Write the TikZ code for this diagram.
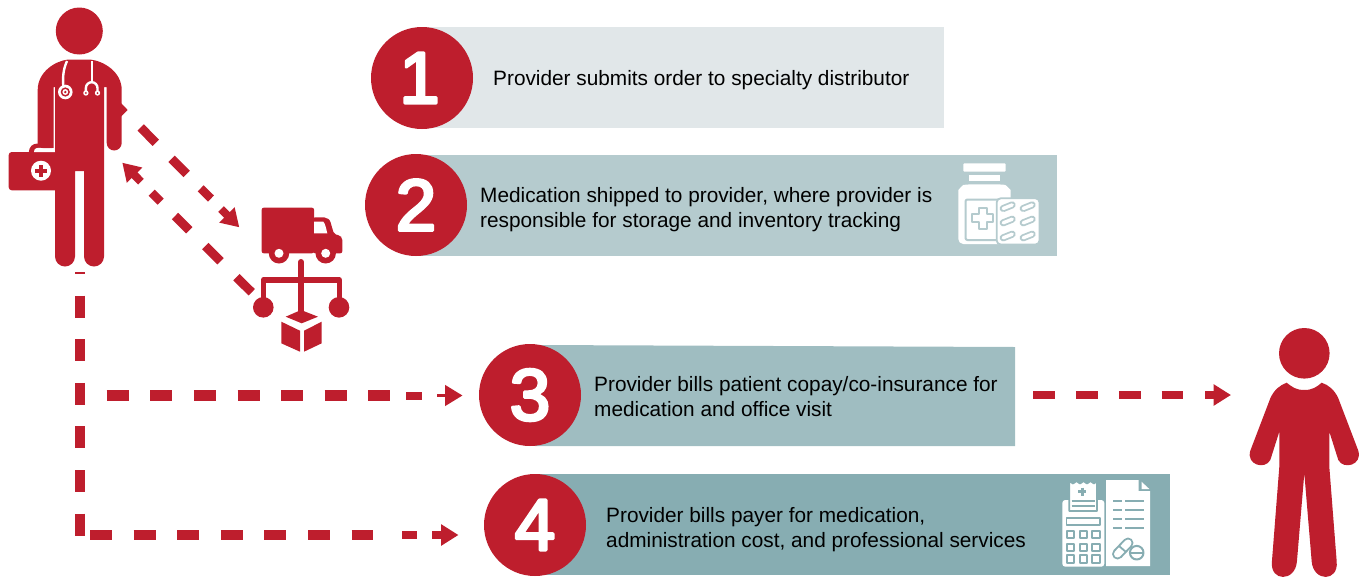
\documentclass[tikz,border=0pt]{standalone}
\usepackage{fontspec}
\setmainfont{Liberation Sans}
\newfontfamily\digitface[FakeBold=4]{Liberation Sans}
\usetikzlibrary{arrows.meta}
\definecolor{brick}{HTML}{BE1E2D}
\definecolor{barA}{HTML}{E1E7E9}
\definecolor{barB}{HTML}{B5CBCE}
\definecolor{barC}{HTML}{9FBDC1}
\definecolor{barD}{HTML}{87ADB2}
\tikzset{
  numdisc/.style={circle,fill=brick,text=white,minimum size=102pt,inner sep=0pt,line join=round,font=\fontsize{73}{73}\selectfont\digitface},
  barbox/.style={rectangle,inner sep=0pt,minimum height=101pt},
  caption/.style={anchor=west,align=left,inner sep=0pt,text=black,font=\fontsize{20.8}{25}\selectfont},
  dashrun/.style={draw=brick,line width=10.5pt,dash pattern=on 22pt off 21.6pt},
  diagrun/.style={draw=brick,line width=9pt,dash pattern=on 21.5pt off 22.5pt},
  endbit/.style={draw=brick,line width=8pt},
  tipline/.style={draw=brick,-{Triangle[length=17.5pt,width=20.5pt]},fill=brick},
  brickfill/.style={fill=brick},
}
\begin{document}
\begin{tikzpicture}[x=1pt,y=-1pt,line join=round]
\useasboundingbox (0,0) rectangle (1362,576);

% bars
\node[barbox,fill=barA,minimum width=524pt] (bar1) at (682,77.5) {};
\node[barbox,fill=barB,minimum width=637pt] (bar2) at (738.5,205.5) {};
\fill[barC] (535,345) -- (1015,347) -- (1015,446) -- (535,446) -- cycle;
\node[barbox,fill=barD,minimum width=635pt] (bar4) at (852.5,524.5) {};

% discs
\node[numdisc] (n1) at (422,78) {\hspace*{-5pt}\raisebox{-2pt}{1}};
\node[numdisc] (n2) at (416,205) {\raisebox{-2pt}{2}};
\node[numdisc] (n3) at (530,395) {\raisebox{-2pt}{3}};
\node[numdisc] (n4) at (535,525) {\raisebox{-2pt}{4}};

% captions
\node[caption] (t1) at (493,80) {Provider submits order to specialty distributor};
\node[caption] (t2) at (480,210) {Medication shipped to provider, where provider is\\responsible for storage and inventory tracking};
\node[caption] (t3) at (594,397) {Provider bills patient copay/co-insurance for\\medication and office visit};
\node[caption] (t4) at (606,529.5) {Provider bills payer for medication,\\administration cost, and professional services};

% ---------- doctor
\fill[brickfill] (79.3,31) circle (23.5);
\fill[brickfill] (37.7,148) -- (37.7,90) .. controls (37.7,72) and (55,61) .. (68,59.5) -- (90,59.5)
  .. controls (104,61) and (121.7,72) .. (121.7,90) -- (121.7,143) arc (0:180:7.5) -- (106.7,87) -- (104,87)
  -- (104,256.5) arc (0:180:10) -- (84,171) -- (75,171) -- (75,256.5) arc (0:180:10) -- (55,190) -- (55,87) -- (53.5,87) -- (53.5,148) -- cycle;
\fill[brickfill,rounded corners=3pt] (8.7,152) rectangle (60,190.3);
\fill[brickfill] (28.7,153) .. controls (29,147) and (32,143.5) .. (38,143.5) -- (38,153) -- cycle;
\fill[white] (34,152) .. controls (34,148) and (37,147.5) .. (41,148) .. controls (45,149.5) and (48,149) .. (52,148.5) -- (53.5,148) -- (55,152) -- cycle;
\fill[white] (41,170.7) circle (10);
\fill[brickfill] (38.8,164.7) rectangle (43.2,176.7);
\fill[brickfill] (35,168.5) rectangle (47,172.9);
\draw[white,line width=2.4pt] (67,61) .. controls (63,70) and (62.5,78) .. (63.5,88);
\fill[white] (65.3,92) circle (7.3);
\fill[brickfill] (65.3,92) circle (4.6);
\fill[white] (65.3,92) circle (2.9);
\fill[brickfill] (65.3,92) circle (1.3);
\draw[white,line width=2.4pt] (91.7,61) -- (91.7,82);
\draw[white,line width=2.4pt] (85.9,92) -- (85.9,88) arc (180:360:5.8) -- (97.5,92);
\fill[white] (85.9,93) circle (2.7) (97.5,93) circle (2.7);
\fill[brickfill] (85.9,93) circle (1) (97.5,93) circle (1);
\fill[brickfill] (121,103) -- (127.7,110) -- (121,116.7) -- cycle;

% ---------- truck
\fill[brickfill,rounded corners=2pt] (261.7,207.7) rectangle (314,253.3);
\fill[brickfill,rounded corners=2pt] (313,217.3) -- (322,217.3) .. controls (327,217.3) and (330,220) .. (331,224) -- (334,234) -- (340,235.5) -- (342.3,238) -- (342.3,253.3) -- (313,253.3) -- cycle;
\fill[white] (314,221.7) -- (323.3,221.7) .. controls (325,223) and (326,228) .. (327.3,233.3) -- (314,233.3) -- cycle;
\node[circle,fill=brick,minimum size=20.4pt,inner sep=0pt] (wheelA) at (279,253.3) {};
\node[circle,fill=brick,minimum size=20.4pt,inner sep=0pt] (wheelB) at (325.7,253.3) {};
\fill[white] (wheelA) circle (4.5) (wheelB) circle (4.5);

% ---------- distribution tree
\draw[brick,line width=6pt,line cap=round] (301,262) -- (301,280);
\draw[brick,line width=6pt] (301,280) -- (301,312);
\draw[brick,line width=5.5pt,line join=round] (263.3,300) -- (263.3,280) -- (339.3,280) -- (339.3,300);
\node[circle,fill=brick,minimum size=20.6pt,inner sep=0pt] (hubA) at (263.3,307.3) {};
\node[circle,fill=brick,minimum size=20.6pt,inner sep=0pt] (hubB) at (339,307.3) {};
\fill[brickfill] (285.7,316.7) -- (301,310) -- (318,316.7) -- (301.7,323.3) -- cycle;
\fill[brickfill] (281.3,321.7) -- (300,330.7) -- (300,351.7) -- (281.3,343.3) -- cycle;
\fill[brickfill] (321.7,321.7) -- (304,330.7) -- (304,351.7) -- (321.7,343.3) -- cycle;

% ---------- patient
\fill[brickfill] (1304.3,353.3) circle (25.3);
\fill[brickfill] (1304.3,390) .. controls (1296,390) and (1292,387) .. (1286.7,382.7)
  .. controls (1280,385) and (1274,390) .. (1270.3,398.3)
  -- (1250.3,450.7) .. controls (1246,465) and (1265,470) .. (1270.3,460)
  -- (1279.3,431.7) -- (1279.3,466.7) -- (1271.9,561.7) .. controls (1270,582) and (1295,582) .. (1296.9,561.7)
  -- (1304.3,473.3) -- (1311.7,561.7) .. controls (1313.6,582) and (1338.6,582) .. (1336.7,561.7)
  -- (1329.3,466.7) -- (1329.3,431.7) -- (1338.3,460) .. controls (1343.6,470) and (1362.6,465) .. (1358.3,450.7)
  -- (1338.3,398.3) .. controls (1334.6,390) and (1328.6,385) .. (1321.7,382.7)
  .. controls (1316.6,387) and (1312.6,390) .. (1304.3,390) -- cycle;

% ---------- pill icon
\fill[white,rounded corners=1pt] (963.3,163.3) rectangle (1005.7,171.7);
\fill[white] (969,175) rectangle (1000,181);
\fill[white,rounded corners=5pt] (958.3,244) -- (958.3,195) .. controls (958.3,190) and (963,185) .. (968.3,184.3) -- (1000,184.3) .. controls (1006,185) and (1010.7,190) .. (1010.7,195) -- (1010.7,244) -- cycle;
\draw[barB,line width=2pt,rounded corners=2pt] (965.5,199.5) rectangle (1001,240);
\draw[barB,line width=1.8pt,fill=white] (978.7,207.7) -- (986.7,207.7) -- (986.7,214.3) -- (993.3,214.3) -- (993.3,222.3) -- (986.7,222.3) -- (986.7,229) -- (978.7,229) -- (978.7,222.3) -- (972,222.3) -- (972,214.3) -- (978.7,214.3) -- cycle;
\draw[barB,line width=1.8pt,fill=white,rounded corners=4pt] (996.7,198.3) rectangle (1039.5,244.5);
\foreach \px in {1007.7,1027.7}{\foreach \py in {206.7,221,236}{
  \draw[barB,line width=7pt,line cap=round] (\px-4.5,\py+1.8) -- (\px+4.5,\py-1.8);
  \draw[white,line width=3.4pt,line cap=round] (\px-4.5,\py+1.8) -- (\px+4.5,\py-1.8);
}}

% ---------- invoice icon
\fill[white,rounded corners=3pt] (1062.3,500) rectangle (1104.3,566.7);
\draw[barD,line width=1.8pt,fill=white] (1069.3,511) -- (1069.3,481) -- (1073,483.5) -- (1076.5,481) -- (1080,483.5) -- (1083.5,481) -- (1087,483.5) -- (1090.5,481) -- (1094,483.5) -- (1097,481) -- (1097,511) -- cycle;
\draw[barD,line width=2.4pt] (1082.3,487.5) -- (1082.3,495.5) (1078.3,491.5) -- (1086.3,491.5);
\draw[barD,line width=2.2pt] (1071.5,501) -- (1094.5,501) (1071.5,506) -- (1094.5,506);
\draw[barD,line width=1.8pt] (1066.5,518.3) rectangle (1100,525);
\foreach \px in {1070.7,1083.3,1096}{\foreach \py in {534.3,547.3,559}{
  \draw[barD,line width=1.9pt] (\px-3.6,\py-3.6) rectangle (\px+3.6,\py+3.6);
}}
\fill[white] (1106,480) -- (1138.5,480) -- (1138.5,491) -- (1150,491) -- (1150,566) -- (1106,566) -- cycle;
\fill[white] (1141.5,481.7) -- (1149.3,489) -- (1141.5,489) -- cycle;
\foreach \py in {500.7,510,519,528.3}{
  \draw[barD,line width=2pt] (1113.3,\py) -- (1121.7,\py) (1125,\py) -- (1144,\py);
}
\draw[barD,line width=11pt,line cap=round] (1117.5,554) -- (1128,543);
\draw[white,line width=7pt,line cap=round] (1117.5,554) -- (1128,543);
\draw[barD,line width=1.8pt] (1119,546) -- (1126,552);
\draw[barD,line width=2pt,fill=white] (1136.7,552.7) circle (6.8);
\draw[barD,line width=2pt] (1130.5,552.7) -- (1143,552.7);

% ---------- connectors
\coordinate (docFoot) at (80,272);
\coordinate (trunkEnd) at (80,536);
\coordinate (branchA) at (106.7,395.5);
\coordinate (branchAend) at (390,395.5);
\coordinate (bitAa) at (406,395.5);
\coordinate (bitAb) at (422,395.5);
\coordinate (stubA) at (437,395.5);
\coordinate (tipA) at (462.5,395.5);
\coordinate (branchB) at (90,535);
\coordinate (branchBend) at (373,535);
\coordinate (bitBa) at (402,535);
\coordinate (bitBb) at (417,535);
\coordinate (stubB) at (432,535);
\coordinate (tipB) at (458.5,535);
\coordinate (patA) at (1033,395);
\coordinate (patB) at (1183.5,395);
\coordinate (stubC) at (1205,395);
\coordinate (tipC) at (1231,395);
\coordinate (outA) at (140.7,127.5);
\coordinate (outB) at (186.7,174);
\coordinate (bitDa) at (200.7,188.3);
\coordinate (bitDb) at (211,198.5);
\coordinate (stubD) at (221,209);
\coordinate (tipD) at (239.3,227.3);
\coordinate (backA) at (251.7,292.3);
\coordinate (backB) at (175,216);
\coordinate (bitEa) at (160.7,201.7);
\coordinate (bitEb) at (151.7,192.7);
\coordinate (stubE) at (141,181.7);
\coordinate (tipE) at (122.3,162.7);

\draw[dashrun,line width=10pt,dash phase=20pt] (docFoot) -- (trunkEnd);
\draw[dashrun] (branchA) -- (branchAend);
\draw[endbit] (bitAa) -- (bitAb);
\draw[tipline,line width=3pt] (stubA) -- (tipA);
\draw[dashrun] (branchB) -- (branchBend);
\draw[endbit] (bitBa) -- (bitBb);
\draw[tipline,line width=8pt] (stubB) -- (tipB);
\draw[dashrun,line width=8.7pt,dash pattern=on 21.7pt off 21.2pt] (patA) -- (patB);
\draw[tipline,line width=8.7pt] (stubC) -- (tipC);
\draw[diagrun] (outA) -- (outB);
\draw[diagrun,line width=8.5pt] (bitDa) -- (bitDb);
\draw[tipline,line width=8pt] (stubD) -- (tipD);
\draw[diagrun] (backA) -- (backB);
\draw[diagrun,line width=8.5pt] (bitEa) -- (bitEb);
\draw[tipline,line width=8pt] (stubE) -- (tipE);
\end{tikzpicture}
\end{document}
